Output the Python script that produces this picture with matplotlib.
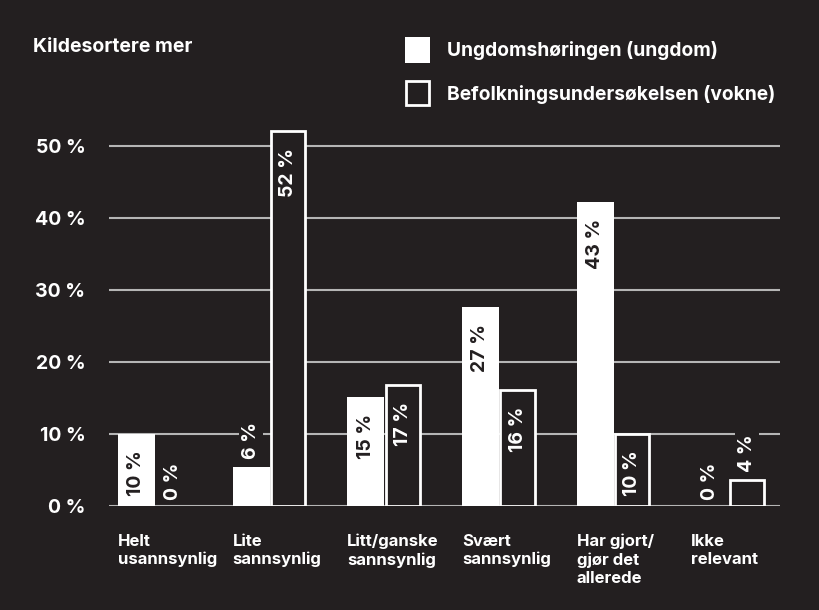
import numpy as np
import matplotlib
matplotlib.use("Agg")
import matplotlib.pyplot as plt

# ---- data ----
kategorier = ["Helt\nusannsynlig", "Lite\nsannsynlig", "Litt/ganske\nsannsynlig",
              "Svært\nsannsynlig", "Har gjort/\ngjør det\nallerede", "Ikke\nrelevant"]
ungdom = [10, 5.4, 15.1, 27.6, 42.2, 0]
ungdom_tekst = ["10 %", "6 %", "15 %", "27 %", "43 %", "0 %"]
vokne = [0, 52.1, 16.8, 16.1, 10, 3.6]
vokne_tekst = ["0 %", "52 %", "17 %", "16 %", "10 %", "4 %"]
yticks = [0, 10, 20, 30, 40, 50]

BG = "#231f20"
HVIT = "#ffffff"
GRID = "#b5b5b5"
VEKT = "bold"

plt.rcParams["font.family"] = ["Inter", "DejaVu Sans"]

fig = plt.figure(figsize=(8.19, 6.10), dpi=100)
fig.patch.set_facecolor(BG)
ax = fig.add_axes([109 / 819, 1 - 506 / 610, (780 - 109) / 819, (506 - 110) / 610])
ax.set_facecolor(BG)

x = np.arange(len(kategorier))
w = 0.323

ax.bar(x - w / 2, ungdom, w, color=HVIT, edgecolor="none", zorder=3)
for xi, v in zip(x, vokne):
    if v > 0:
        ax.bar(xi + w / 2, v, w * 0.93, color=BG, edgecolor=HVIT,
               linewidth=2, zorder=3)

# grid lines
for t in yticks:
    ax.axhline(t, color=GRID, linewidth=1.5, zorder=1)

ax.set_xlim(-0.40, 5.45)
ax.set_ylim(0, 55)
ax.set_yticks(yticks)
ax.set_yticklabels([f"{t} %" for t in yticks])
ax.tick_params(axis="y", length=0, pad=17, labelsize=14, labelcolor=HVIT)
for lab in ax.get_yticklabels():
    lab.set_fontweight(VEKT)
ax.set_xticks([])
for s in ax.spines.values():
    s.set_visible(False)


def etikett(xpos, verdi, tekst, inne_farge):
    if verdi >= 10:
        ax.annotate(tekst, (xpos, verdi), xytext=(0, -12), textcoords="offset points",
                    rotation=90, ha="center", va="top", fontsize=14,
                    fontweight=VEKT, color=inne_farge, zorder=5)
    else:
        off = 4 if verdi == 0 else 6
        ax.annotate(tekst, (xpos, verdi), xytext=(0, off), textcoords="offset points",
                    rotation=90, ha="center", va="bottom", fontsize=14,
                    fontweight=VEKT, color=HVIT, zorder=5,
                    bbox=dict(boxstyle="square,pad=0.15", fc=BG, ec="none"))


for xi, v, t in zip(x, ungdom, ungdom_tekst):
    etikett(xi - w / 2, v, t, BG)
for xi, v, t in zip(x, vokne, vokne_tekst):
    etikett(xi + w / 2, v, t, HVIT)

# category labels
for xi, k in zip(x, kategorier):
    ax.annotate(k, (xi - w, 0), xytext=(0, -20), textcoords="offset points",
                ha="left", va="top", fontsize=12, fontweight=VEKT,
                color=HVIT, linespacing=1.25, annotation_clip=False)

# title and legend
fig.text(33 / 819, 1 - 47 / 610, "Kildesortere mer", ha="left", va="center",
         fontsize=14, fontweight=VEKT, color=HVIT)
fig.patches.append(plt.Rectangle((405 / 819, 1 - 63 / 610), 25 / 819, 26 / 610,
                                 transform=fig.transFigure, facecolor=HVIT,
                                 edgecolor="none"))
fig.patches.append(plt.Rectangle((406 / 819, 1 - 105 / 610), 23 / 819, 24 / 610,
                                 transform=fig.transFigure, facecolor=BG,
                                 edgecolor=HVIT, linewidth=2))
fig.text(447 / 819, 1 - 51 / 610, "Ungdomshøringen (ungdom)", ha="left", va="center",
         fontsize=13.8, fontweight=VEKT, color=HVIT)
fig.text(447 / 819, 1 - 94 / 610, "Befolkningsundersøkelsen (vokne)", ha="left",
         va="center", fontsize=13.8, fontweight=VEKT, color=HVIT)

fig.savefig("out.png", dpi=100, facecolor=BG)
